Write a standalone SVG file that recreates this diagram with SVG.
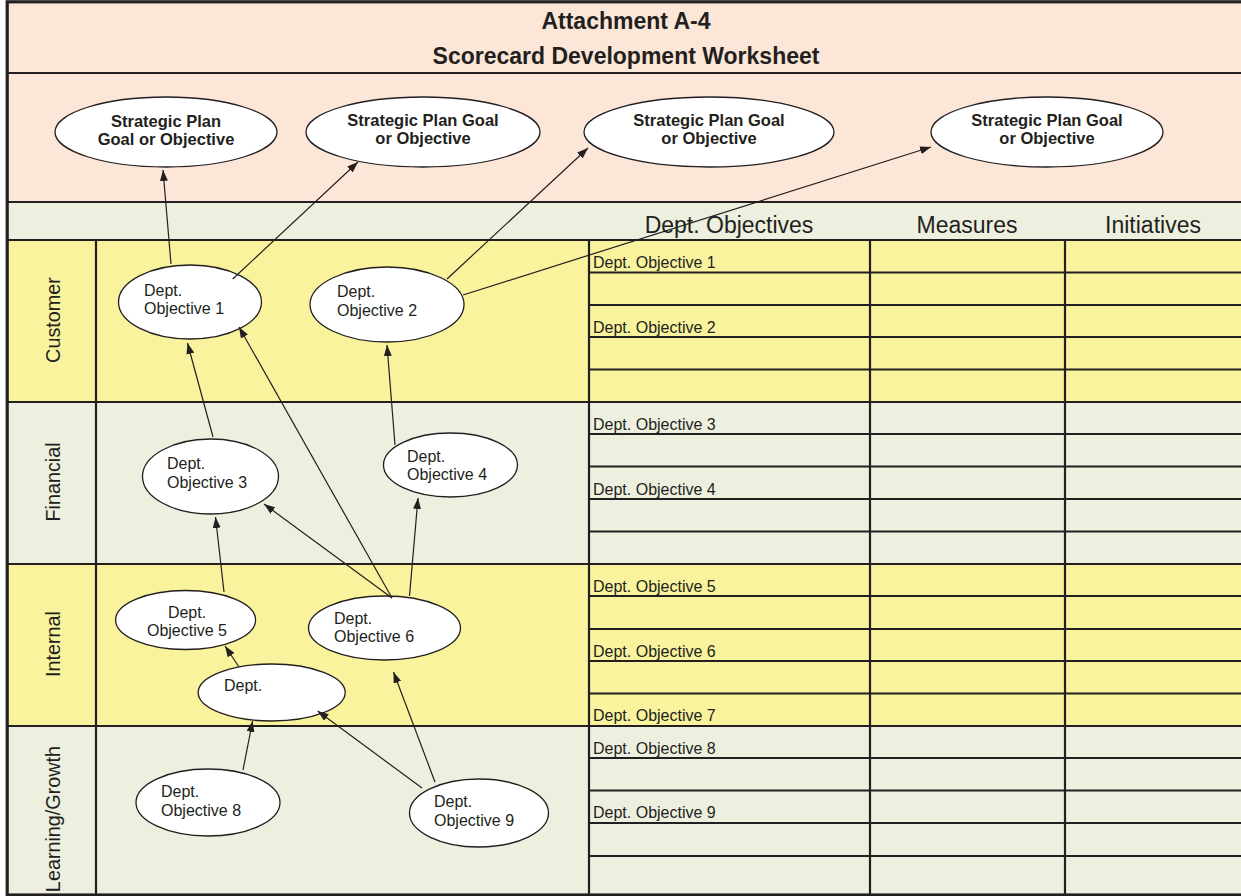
<svg xmlns="http://www.w3.org/2000/svg" width="1241" height="896" viewBox="0 0 1241 896">
<style>
text{font-family:"Liberation Sans",Arial,sans-serif;fill:#231F20}
.title{font-size:23px;font-weight:bold;text-anchor:middle}
.sp{font-size:16.5px;font-weight:bold;text-anchor:middle}
.hd{font-size:23px;text-anchor:middle}
.lane{font-size:19.8px;text-anchor:middle}
.obj{font-size:16px}
.row{font-size:16px}
.grid{stroke:#231F20;stroke-width:2.2;fill:none}
.ell{fill:#FFFFFF;stroke:#231F20;stroke-width:1.3}
.con line{stroke:#231F20;stroke-width:1.2;marker-end:url(#ah)}
</style>
<defs>
<marker id="ah" markerUnits="userSpaceOnUse" markerWidth="11" markerHeight="8" refX="11" refY="4" orient="auto">
<path d="M0,0 L11,4 L0,8 z" fill="#231F20"/>
</marker>
</defs>
<g id="bands">
<rect x="7" y="2" width="1234" height="200" fill="#FCE6D8"/>
<rect x="7" y="202" width="1234" height="38" fill="#EDF0DF"/>
<rect x="7" y="240" width="1234" height="162" fill="#F8F39C"/>
<rect x="7" y="402" width="1234" height="162" fill="#EDF0DF"/>
<rect x="7" y="564" width="1234" height="162" fill="#F8F39C"/>
<rect x="7" y="726" width="1234" height="169" fill="#EDF0DF"/>
</g>
<g id="grid" class="grid">
<line x1="7" y1="73" x2="1241" y2="73"/>
<line x1="7" y1="202" x2="1241" y2="202"/>
<line x1="7" y1="240" x2="1241" y2="240"/>
<line x1="7" y1="402" x2="1241" y2="402"/>
<line x1="7" y1="564" x2="1241" y2="564"/>
<line x1="7" y1="726" x2="1241" y2="726"/>
<line x1="96" y1="240" x2="96" y2="895"/>
<line x1="589" y1="240" x2="589" y2="895"/>
<line x1="870" y1="240" x2="870" y2="895"/>
<line x1="1065" y1="240" x2="1065" y2="895"/>
<line x1="589" y1="272.5" x2="1241" y2="272.5"/>
<line x1="589" y1="305" x2="1241" y2="305"/>
<line x1="589" y1="337" x2="1241" y2="337"/>
<line x1="589" y1="369.5" x2="1241" y2="369.5"/>
<line x1="589" y1="434" x2="1241" y2="434"/>
<line x1="589" y1="466.5" x2="1241" y2="466.5"/>
<line x1="589" y1="499" x2="1241" y2="499"/>
<line x1="589" y1="531.5" x2="1241" y2="531.5"/>
<line x1="589" y1="596" x2="1241" y2="596"/>
<line x1="589" y1="629" x2="1241" y2="629"/>
<line x1="589" y1="661" x2="1241" y2="661"/>
<line x1="589" y1="693.5" x2="1241" y2="693.5"/>
<line x1="589" y1="758" x2="1241" y2="758"/>
<line x1="589" y1="790.5" x2="1241" y2="790.5"/>
<line x1="589" y1="823" x2="1241" y2="823"/>
<line x1="589" y1="856" x2="1241" y2="856"/>
<rect x="7.2" y="1.8" width="1240" height="893.2" stroke-width="3.2"/>
</g>
<g id="title">
<text class="title" x="626" y="29">Attachment A-4</text>
<text class="title" x="626" y="64">Scorecard Development Worksheet</text>
</g>
<g id="headers">
<text class="hd" x="729" y="233">Dept. Objectives</text>
<text class="hd" x="967" y="233">Measures</text>
<text class="hd" x="1153" y="233">Initiatives</text>
</g>
<g id="lanes">
<text class="lane" transform="translate(59.5,320) rotate(-90)">Customer</text>
<text class="lane" transform="translate(59.5,482) rotate(-90)">Financial</text>
<text class="lane" transform="translate(59.5,644) rotate(-90)">Internal</text>
<text class="lane" transform="translate(59.5,819) rotate(-90)">Learning/Growth</text>
</g>
<g id="rows" class="row">
<text x="593" y="268">Dept. Objective 1</text>
<text x="593" y="333">Dept. Objective 2</text>
<text x="593" y="430">Dept. Objective 3</text>
<text x="593" y="495">Dept. Objective 4</text>
<text x="593" y="592">Dept. Objective 5</text>
<text x="593" y="657">Dept. Objective 6</text>
<text x="593" y="721">Dept. Objective 7</text>
<text x="593" y="754">Dept. Objective 8</text>
<text x="593" y="818">Dept. Objective 9</text>
</g>
<g id="sp1"><ellipse class="ell" cx="166" cy="132" rx="111" ry="35"/><text class="sp" x="166" y="127">Strategic Plan</text><text class="sp" x="166" y="145">Goal or Objective</text></g>
<g id="sp2"><ellipse class="ell" cx="423" cy="132" rx="117" ry="35"/><text class="sp" x="423" y="126">Strategic Plan Goal</text><text class="sp" x="423" y="144">or Objective</text></g>
<g id="sp3"><ellipse class="ell" cx="709" cy="132" rx="125" ry="35"/><text class="sp" x="709" y="126">Strategic Plan Goal</text><text class="sp" x="709" y="144">or Objective</text></g>
<g id="sp4"><ellipse class="ell" cx="1047" cy="132" rx="116" ry="35"/><text class="sp" x="1047" y="126">Strategic Plan Goal</text><text class="sp" x="1047" y="144">or Objective</text></g>
<g id="obj1"><ellipse class="ell" cx="190" cy="302" rx="71.5" ry="37"/><text class="obj" x="144" y="296">Dept.</text><text class="obj" x="144" y="314">Objective 1</text></g>
<g id="obj2"><ellipse class="ell" cx="387" cy="304.5" rx="77" ry="37.5"/><text class="obj" x="337" y="297">Dept.</text><text class="obj" x="337" y="316">Objective 2</text></g>
<g id="obj3"><ellipse class="ell" cx="210.5" cy="476.5" rx="68" ry="37.5"/><text class="obj" x="167" y="469">Dept.</text><text class="obj" x="167" y="488">Objective 3</text></g>
<g id="obj4"><ellipse class="ell" cx="450.5" cy="465" rx="67" ry="32"/><text class="obj" x="407" y="462">Dept.</text><text class="obj" x="407" y="480">Objective 4</text></g>
<g id="obj5"><ellipse class="ell" cx="185.6" cy="620" rx="70" ry="29.5"/><text class="obj" x="187" y="618" text-anchor="middle">Dept.</text><text class="obj" x="187" y="636" text-anchor="middle">Objective 5</text></g>
<g id="obj6"><ellipse class="ell" cx="384.5" cy="628" rx="76" ry="32"/><text class="obj" x="334" y="624">Dept.</text><text class="obj" x="334" y="642">Objective 6</text></g>
<g id="obj7"><ellipse class="ell" cx="271.7" cy="692.5" rx="73.5" ry="28.5"/><text class="obj" x="224" y="691">Dept.</text></g>
<g id="obj8"><ellipse class="ell" cx="208" cy="802.5" rx="72" ry="33.5"/><text class="obj" x="161" y="797">Dept.</text><text class="obj" x="161" y="816">Objective 8</text></g>
<g id="obj9"><ellipse class="ell" cx="479" cy="813" rx="69.5" ry="34"/><text class="obj" x="434" y="807">Dept.</text><text class="obj" x="434" y="826">Objective 9</text></g>
<g id="connectors" class="con">
<line x1="171" y1="264" x2="163" y2="170"/>
<line x1="232.7" y1="279" x2="358" y2="162"/>
<line x1="447" y1="279" x2="588" y2="148"/>
<line x1="463" y1="295" x2="931" y2="147"/>
<line x1="213" y1="437" x2="187.5" y2="343"/>
<line x1="392" y1="598" x2="239" y2="327"/>
<line x1="395" y1="445" x2="387" y2="345"/>
<line x1="392" y1="598" x2="264" y2="504"/>
<line x1="409.5" y1="596" x2="418" y2="498"/>
<line x1="224" y1="592" x2="215.5" y2="517"/>
<line x1="239" y1="667" x2="225" y2="646"/>
<line x1="243" y1="770" x2="252.6" y2="721"/>
<line x1="422" y1="788" x2="317.6" y2="711"/>
<line x1="435" y1="782" x2="393.5" y2="672"/>
</g>
</svg>
